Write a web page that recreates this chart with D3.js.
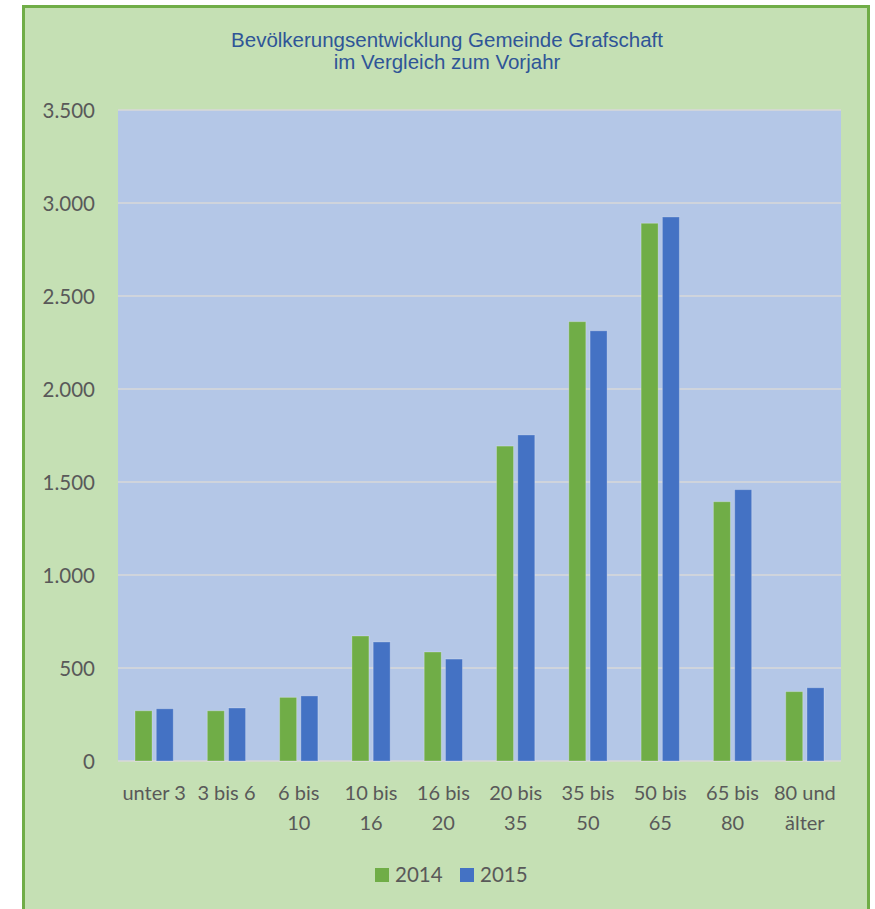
<!DOCTYPE html>
<html>
<head>
<meta charset="utf-8">
<script src="https://cdn.jsdelivr.net/npm/d3@7"></script>
<style>
  body { margin: 0; background: #fff; }
  svg { display: block; }
  .tick-label { font-family: Lato, "Open Sans", sans-serif; fill: #595959; }
  .title { font-family: "Liberation Sans", Arial, sans-serif; fill: #2f5597; }
</style>
</head>
<body>
<svg width="875" height="909"></svg>
<script>
// data
var categories = ["unter 3", "3 bis 6", "6 bis 10", "10 bis 16", "16 bis 20",
                  "20 bis 35", "35 bis 50", "50 bis 65", "65 bis 80", "80 und älter"];
var categoryLines = [["unter 3"], ["3 bis 6"], ["6 bis", "10"], ["10 bis", "16"], ["16 bis", "20"],
                     ["20 bis", "35"], ["35 bis", "50"], ["50 bis", "65"], ["65 bis", "80"], ["80 und", "älter"]];
var seriesNames = ["2014", "2015"];
var values2014 = [270, 270, 342, 672, 586, 1693, 2362, 2891, 1394, 373];
var values2015 = [281, 285, 350, 640, 548, 1753, 2313, 2925, 1459, 394];
var yTicks = [0, 500, 1000, 1500, 2000, 2500, 3000, 3500];
var titleLines = ["Bevölkerungsentwicklung Gemeinde Grafschaft", "im Vergleich zum Vorjahr"];
var colors = ["#70ad47", "#4472c4"];

var svg = d3.select("svg");

// outer frame
svg.append("rect")
  .attr("x", 23.5).attr("y", 6.5)
  .attr("width", 845).attr("height", 930)
  .attr("fill", "#c5e0b4")
  .attr("stroke", "#70ad47")
  .attr("stroke-width", 3);

var plot = { left: 118, right: 841, top: 110, bottom: 761 };

var x = d3.scaleBand()
  .domain(categories)
  .range([plot.left, plot.right]);

var x1 = d3.scaleBand()
  .domain(seriesNames)
  .range([0, x.bandwidth()])
  .paddingInner(0.2)
  .paddingOuter(0.8);

var y = d3.scaleLinear()
  .domain([0, 3500])
  .range([plot.bottom, plot.top]);

var fmt = d3.formatLocale({ decimal: ",", thousands: ".", grouping: [3], currency: ["", "€"] }).format(",d");

// plot background
svg.append("rect")
  .attr("x", plot.left).attr("y", plot.top)
  .attr("width", plot.right - plot.left).attr("height", plot.bottom - plot.top)
  .attr("fill", "#b4c7e7");

// gridlines
svg.append("g")
  .selectAll("line")
  .data(yTicks).enter()
  .append("line")
  .attr("x1", plot.left).attr("x2", plot.right)
  .attr("y1", function (d) { return y(d); })
  .attr("y2", function (d) { return y(d); })
  .attr("stroke", "#d9d9d9")
  .attr("stroke-width", 1.5);

// y axis labels
var yAxis = d3.axisLeft(y)
  .tickValues(yTicks)
  .tickFormat(fmt)
  .tickSize(0)
  .tickPadding(23);

svg.append("g")
  .attr("transform", "translate(" + plot.left + ",0)")
  .call(yAxis)
  .call(function (g) { g.select(".domain").remove(); })
  .selectAll("text")
  .attr("class", "tick-label")
  .attr("font-size", 20.5)
  .attr("dy", "0.35em");

// bars
var rows = categories.map(function (c, i) {
  return { cat: c, vals: [values2014[i], values2015[i]] };
});

var groups = svg.append("g")
  .selectAll("g")
  .data(rows).enter()
  .append("g")
  .attr("transform", function (d) { return "translate(" + x(d.cat) + ",0)"; });

groups.selectAll("rect")
  .data(function (d) {
    return d.vals.map(function (v, j) { return { s: seriesNames[j], v: v, j: j }; });
  }).enter()
  .append("rect")
  .attr("x", function (d) { return x1(d.s); })
  .attr("y", function (d) { return y(d.v); })
  .attr("width", x1.bandwidth())
  .attr("height", function (d) { return y(0) - y(d.v); })
  .attr("fill", function (d) { return colors[d.j]; })
  .attr("stroke", "rgba(255,255,255,0.25)")
  .attr("stroke-width", 1);

// x labels
var xAxis = svg.append("g");
categories.forEach(function (c, i) {
  var t = xAxis.append("text")
    .attr("class", "tick-label")
    .attr("font-size", 20)
    .attr("text-anchor", "middle")
    .attr("x", x(c) + x.bandwidth() / 2)
    .attr("y", 800);
  categoryLines[i].forEach(function (line, k) {
    t.append("tspan")
      .attr("x", x(c) + x.bandwidth() / 2)
      .attr("dy", k === 0 ? 0 : 29.5)
      .text(line);
  });
});

// title
svg.append("text")
  .attr("class", "title")
  .attr("font-size", 20.5)
  .attr("text-anchor", "middle")
  .selectAll("tspan")
  .data(titleLines).enter()
  .append("tspan")
  .attr("x", 447)
  .attr("y", function (d, i) { return 47 + i * 21.5; })
  .text(function (d) { return d; });

// legend
var legend = svg.append("g")
  .selectAll("g")
  .data(seriesNames).enter()
  .append("g")
  .attr("transform", function (d, i) { return "translate(" + (375 + i * 85) + ",868)"; });

legend.append("rect")
  .attr("width", 14).attr("height", 14)
  .attr("fill", function (d, i) { return colors[i]; });

legend.append("text")
  .attr("class", "tick-label")
  .attr("font-size", 20.5)
  .attr("x", 20)
  .attr("y", 7)
  .attr("dy", "0.35em")
  .text(function (d) { return d; });
</script>
</body>
</html>
